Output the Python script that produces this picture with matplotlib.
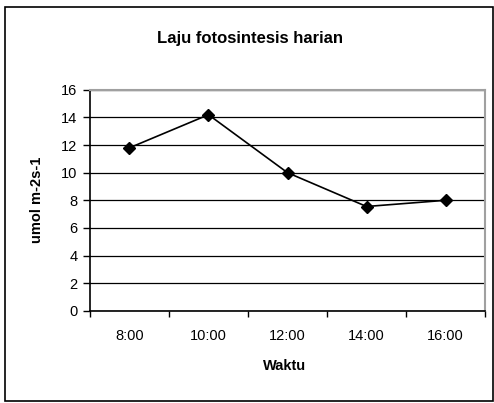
import numpy as np
import matplotlib.pyplot as plt
from matplotlib.patches import Rectangle

# data
waktu = ['8:00', '10:00', '12:00', '14:00', '16:00']
laju = [11.8, 14.2, 10.0, 7.55, 8.0]
y_ticks = [0, 2, 4, 6, 8, 10, 12, 14, 16]

plt.rcParams['font.family'] = ['Liberation Sans', 'DejaVu Sans']

fig = plt.figure(figsize=(4.94, 4.03), dpi=100)
ax = fig.add_axes([0.182, 0.229, 0.800, 0.548])

x = np.arange(len(waktu))
ax.plot(x, laju, color='black', lw=1.2, marker='D', markersize=6.5, zorder=3)

ax.set_xlim(-0.5, len(waktu) - 0.5)
ax.set_ylim(0, 16)
ax.set_yticks(y_ticks)
ax.set_xticks(x)
ax.set_xticklabels(waktu)
ax.set_xticks(np.arange(len(waktu) + 1) - 0.5, minor=True)
ax.tick_params(axis='x', which='major', length=0, pad=13, labelsize=10.5)
ax.tick_params(axis='x', which='minor', length=4, width=1, color='black')
ax.tick_params(axis='y', length=5, width=1, labelsize=10.5, pad=4)

ax.yaxis.grid(True, color='black', lw=0.9)
ax.set_axisbelow(True)
for s in ['top', 'right']:
    ax.spines[s].set_color('#a0a0a0')
    ax.spines[s].set_linewidth(1.5)
for s in ['left', 'bottom']:
    ax.spines[s].set_color('black')
    ax.spines[s].set_linewidth(1.2)

fig.text(0.506, 0.905, 'Laju fotosintesis harian', ha='center', va='center',
         fontsize=12, fontweight='bold')
ax.set_ylabel('umol m-2s-1', fontsize=10.5, fontweight='bold', labelpad=12)
fig.text(0.577, 0.093, 'Waktu', ha='center', va='center',
         fontsize=10.5, fontweight='bold')

# outer chart border
fig.patches.append(Rectangle((0.010, 0.005), 0.987, 0.978, transform=fig.transFigure,
                             fill=False, edgecolor='black', lw=1.2))

fig.savefig('out.png', dpi=100)
